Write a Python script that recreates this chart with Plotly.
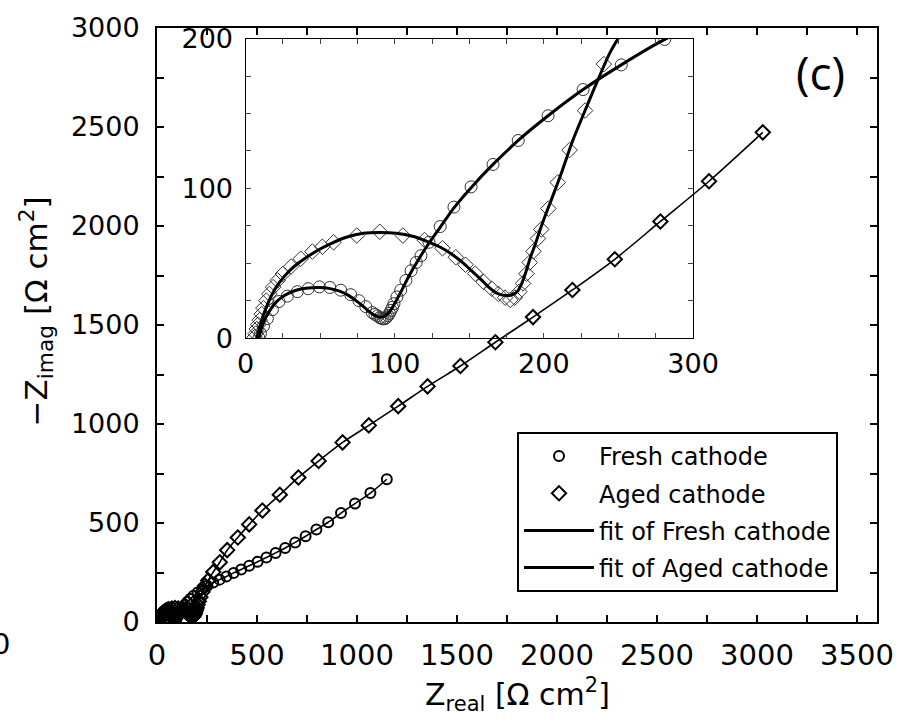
import plotly.graph_objects as go

# ---------------- data ----------------
fresh_x = [9, 10, 12, 14.6, 18, 22.4, 28, 34.7, 42, 49.5, 56.5, 63.8, 70.5, 76, 80.6, 85,
           86.8, 88.5, 90, 91, 92.2, 93.5, 94.5, 95.5, 96.5, 97.5, 98.5, 99.5, 101.5, 104,
           107.5, 111, 114.4, 117.6, 123, 130.5, 139.7, 151.2, 165.9, 182.8, 202.8, 226.3,
           251.9, 281, 313, 347, 383, 421, 461, 503, 547, 593, 641, 691, 743, 797, 856, 920,
           990, 1067, 1149]
fresh_y = [0, 3, 8, 13, 19, 24.4, 28, 31, 33, 34.2, 33.8, 32, 29, 25, 21, 17,
           15.8, 14.8, 13.7, 13.2, 12.8, 13, 13.8, 15, 16.5, 18.5, 20.5, 23, 27.5, 32,
           38.5, 45, 50.5, 55, 64, 74.5, 87.5, 101, 116, 132, 148.5, 166,
           182.5, 199.5, 214, 230, 248, 265, 284, 304, 326, 349, 374, 402, 433, 467, 504, 550,
           598, 651, 721]

aged_x = [6, 6.8, 7.5, 8.5, 9.5, 10.8, 12, 13.9, 16, 18.5, 21.5, 25, 30.5, 37, 44.8, 51.5,
          59, 74.6, 90, 105.5, 120, 132, 140.9, 147.5, 154, 159.6, 165, 169.5, 174, 177.5,
          180.5, 183.5, 186, 188.3, 190.5, 193, 196, 198.2, 203, 209.3, 217.2, 227.6, 240.2,
          256, 281, 314, 351, 404, 461, 527, 614, 707, 808, 928, 1059, 1206, 1353, 1517,
          1692, 1880, 2077, 2289, 2517, 2760, 3029]
aged_y = [0.5, 3, 6, 9, 12, 16, 20, 25, 29.5, 34, 38.5, 42.8, 47.8, 53, 57.8, 61,
          64, 68.5, 71, 68.5, 65.5, 60, 54, 49, 43, 37.5, 33, 29.5, 27, 25.5,
          27, 31, 36.5, 43, 50.5, 58, 66.5, 72.6, 86.5, 104, 125.6, 152, 183,
          210, 252, 302, 363, 427, 493, 563, 643, 730, 813, 907, 993, 1090, 1190, 1293,
          1413, 1540, 1677, 1832, 2023, 2226, 2473]

fit_fresh_x = [9, 9.8, 11, 12.5, 14.5, 17, 20, 24, 29, 35, 42, 49, 56, 63, 69, 74, 78.5,
               82.5, 86, 88.5, 91, 93.5, 96, 98.5, 101, 104, 107.5, 111.5, 116, 121, 130.5,
               139.7, 151.2, 165.9, 182.8, 202.8, 226.3, 251.9, 281, 313, 347, 383, 421, 461,
               503, 547, 593, 641, 691, 743, 797, 856, 920, 990, 1067, 1149]
fit_fresh_y = [0, 3.5, 7.5, 11.5, 15.5, 19.5, 23.5, 27, 30, 32.3, 33.5, 33.8, 33.2, 31.3,
               28.5, 25, 21.5, 18, 15.5, 14.3, 14, 14.8, 17, 20.5, 25, 30.5, 37.5, 45, 52.5,
               60.5, 74, 87, 100.5, 116, 132, 148.5, 166, 182.5, 199.5, 214, 230, 248, 265,
               284, 304, 326, 349, 374, 402, 433, 467, 504, 550, 598, 651, 721]

fit_aged_x = [7.5, 8.5, 9.8, 11.5, 13.5, 16, 19, 23, 28, 34, 41, 49, 58, 68, 79, 90, 101,
              112, 122, 131, 139, 146, 152, 158, 163, 167.5, 171, 174, 177, 180, 182.5, 184.5,
              186.5, 188.5, 191, 194, 197, 201, 206, 212, 219, 227.6, 236, 245, 256, 281, 314,
              351, 404, 461, 527, 614, 707, 808, 928, 1059, 1206, 1353, 1517, 1692, 1880,
              2077, 2289, 2517, 2760, 3029]
fit_aged_y = [0, 4, 8.5, 14, 19.5, 25.5, 31.5, 37.5, 43.5, 49, 54, 59, 63.5, 67.5, 70, 70.5,
              70, 68, 64.5, 60.5, 55.5, 50, 44.5, 39, 34, 30.5, 29, 28.5, 28.5, 29.5, 31.5, 35,
              40, 46, 54, 62, 71, 82, 95, 111, 131, 152, 172, 192, 210, 252, 302,
              363, 427, 493, 563, 643, 730, 813, 907, 993, 1090, 1190, 1293, 1413, 1540,
              1677, 1832, 2023, 2226, 2473]

main_xticks = [0, 500, 1000, 1500, 2000, 2500, 3000, 3500]
main_yticks = [0, 500, 1000, 1500, 2000, 2500, 3000]
inset_xticks = [0, 100, 200, 300]
inset_yticks = [0, 100, 200]

x_title = "Z<sub>real</sub> [Ω cm<sup>2</sup>]"
y_title = "−Z<sub>imag</sub> [Ω cm<sup>2</sup>]"

FONT = "DejaVu Sans"

fig = go.Figure()

# ---------------- main plot ----------------
fig.add_trace(go.Scatter(x=fit_fresh_x, y=fit_fresh_y, mode="lines",
                         line=dict(color="black", width=1.6, shape="spline", smoothing=0.8),
                         showlegend=False, hoverinfo="skip", xaxis="x", yaxis="y"))
fig.add_trace(go.Scatter(x=fit_aged_x, y=fit_aged_y, mode="lines",
                         line=dict(color="black", width=1.6, shape="spline", smoothing=0.8),
                         showlegend=False, hoverinfo="skip", xaxis="x", yaxis="y"))
fig.add_trace(go.Scatter(x=fresh_x, y=fresh_y, mode="markers", name="Fresh cathode",
                         marker=dict(symbol="circle-open", size=10, color="black",
                                     line=dict(width=2, color="black")),
                         legendrank=1, legendgroup="g1", xaxis="x", yaxis="y"))
fig.add_trace(go.Scatter(x=aged_x, y=aged_y, mode="markers", name="Aged cathode",
                         marker=dict(symbol="diamond-open", size=11, color="black",
                                     line=dict(width=2, color="black")),
                         legendrank=2, legendgroup="g2", xaxis="x", yaxis="y"))

# ---------------- inset ----------------
fig.add_trace(go.Scatter(x=fresh_x, y=fresh_y, mode="markers", showlegend=False,
                         marker=dict(symbol="circle-open", size=12, color="#333",
                                     line=dict(width=1, color="#333")),
                         hoverinfo="skip", xaxis="x2", yaxis="y2"))
fig.add_trace(go.Scatter(x=aged_x, y=aged_y, mode="markers", showlegend=False,
                         marker=dict(symbol="diamond-open", size=12, color="#333",
                                     line=dict(width=1, color="#333")),
                         hoverinfo="skip", xaxis="x2", yaxis="y2"))
fig.add_trace(go.Scatter(x=fit_fresh_x, y=fit_fresh_y, mode="lines", name="fit of Fresh cathode",
                         line=dict(color="black", width=3, shape="spline", smoothing=0.8),
                         legendrank=3, legendgroup="g3", xaxis="x2", yaxis="y2"))
fig.add_trace(go.Scatter(x=fit_aged_x, y=fit_aged_y, mode="lines", name="fit of Aged cathode",
                         line=dict(color="black", width=3, shape="spline", smoothing=0.8),
                         legendrank=4, legendgroup="g4", xaxis="x2", yaxis="y2"))

common_main = dict(showline=True, linecolor="black", linewidth=2, mirror="ticks",
                   ticks="inside", ticklen=7, tickwidth=1.5, tickcolor="black",
                   showgrid=False, zeroline=False)
common_inset = dict(showline=True, linecolor="black", linewidth=1.3, mirror="ticks",
                    ticks="inside", ticklen=5, tickwidth=1, tickcolor="#444",
                    showgrid=False, zeroline=False,
                    tickfont=dict(family=FONT, size=27, color="black"))

fig.update_layout(
    width=915, height=722,
    margin=dict(l=157, r=26, t=22, b=100),
    paper_bgcolor="white", plot_bgcolor="rgba(0,0,0,0)",
    font=dict(family=FONT, color="black"),
    xaxis=dict(domain=[0, 1], range=[0, 3600], tickvals=main_xticks, anchor="y",
               minor=dict(dtick=250, ticks="inside", ticklen=7, tickwidth=1.5, tickcolor="black"),
               tickfont=dict(family=FONT, size=29, color="black"), ticklabelstandoff=6,
               **common_main),
    yaxis=dict(domain=[0, 1], range=[0, 3000], tickvals=main_yticks, anchor="x",
               minor=dict(dtick=250, ticks="inside", ticklen=7, tickwidth=1.5, tickcolor="black"),
               tickfont=dict(family=FONT, size=27, color="black"), ticklabelstandoff=10,
               **common_main),
    xaxis2=dict(domain=[0.123, 0.7445], range=[0, 300], tickvals=inset_xticks, anchor="y2",
                minor=dict(dtick=25, ticks="inside", ticklen=5, tickwidth=1, tickcolor="#444"),
                ticklabelstandoff=1, **common_inset),
    yaxis2=dict(domain=[0.478, 0.982], range=[0, 200], tickvals=inset_yticks, anchor="x2",
                minor=dict(dtick=25, ticks="inside", ticklen=5, tickwidth=1, tickcolor="#444"),
                ticklabelstandoff=6, **common_inset),
    legend=dict(x=0.5, y=0.32, xanchor="left", yanchor="top",
                bordercolor="black", borderwidth=2, bgcolor="white",
                font=dict(family=FONT, size=24, color="black"),
                traceorder="grouped", tracegroupgap=3, itemwidth=70),
    annotations=[
        dict(text=x_title, xref="paper", yref="paper", x=0.5, y=-0.122,
             xanchor="center", yanchor="middle", showarrow=False,
             font=dict(family=FONT, size=30, color="black")),
        dict(text=y_title, xref="paper", yref="paper", x=-0.168, y=0.523,
             xanchor="center", yanchor="middle", textangle=-90, showarrow=False,
             font=dict(family=FONT, size=31, color="black")),
        dict(text="(c)", xref="paper", yref="paper", x=0.921, y=0.926,
             xanchor="center", yanchor="middle",
             showarrow=False, font=dict(family="Open Sans", size=46, color="black")),
        dict(text="0", xref="paper", yref="paper", x=-0.2165, y=-0.0367,
             xanchor="center", yanchor="middle",
             showarrow=False, font=dict(family=FONT, size=29, color="black")),
    ],
)

fig.write_html("out.html")
